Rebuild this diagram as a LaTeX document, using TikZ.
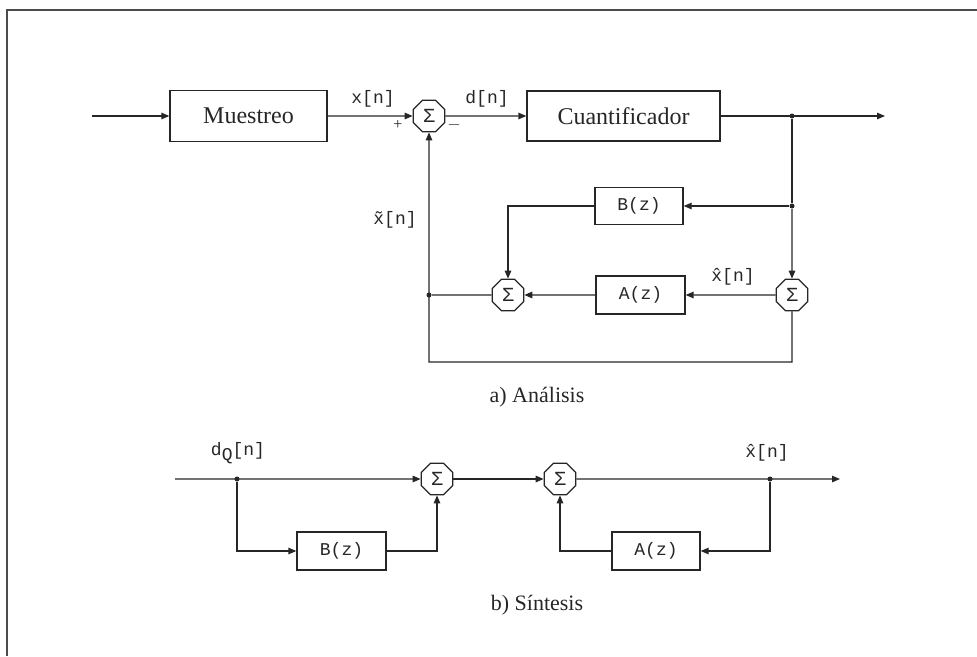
\documentclass[tikz,border=0pt]{standalone}
\usepackage{fontspec}
\setmainfont{Liberation Serif}
\setmonofont{Liberation Mono}
\usetikzlibrary{arrows.meta,shapes.geometric}
\begin{document}
\begin{tikzpicture}[x=1pt,y=-1pt,
  color=black!85,
  line width=1.3pt,
  blk/.style={draw, rectangle, inner sep=0pt, line width=1.3pt},
  sumj/.style={draw, regular polygon, regular polygon sides=8, minimum size=34pt, inner sep=0pt, line width=1.3pt, font=\ttfamily\fontsize{20}{20}\selectfont},
  arr/.style={-{Triangle[length=8pt,width=6.5pt]}},
  dotj/.style={circle, fill, inner sep=0pt, minimum size=5pt},
  lbl/.style={font=\ttfamily\fontsize{18}{18}\selectfont},
  capt/.style={font=\fontsize{22}{22}\selectfont},
  boxtxt/.style={font=\fontsize{24}{24}\selectfont},
  boxmono/.style={font=\ttfamily\fontsize{18}{18}\selectfont}
]
\useasboundingbox (0,0) rectangle (977,656);
% frame
\draw[line width=1.5pt, black!70] (7,656) -- (7,10) -- (977,10);

% ---------- a) Analisis ----------
\coordinate (in1) at (92,116);
\node[blk, boxtxt, minimum width=157pt, minimum height=51pt] (mu) at (248.5,116) {Muestreo};
\node[sumj] (s1) at (429,116) {Σ};
\node[blk, boxtxt, minimum width=193pt, minimum height=50pt] (cu) at (623.5,116) {Cuantificador};
\coordinate (out1) at (885,116);
\node[dotj] (d1) at (792,116) {};
\node[dotj] (d2) at (792,206) {};
\node[blk, boxmono, minimum width=88pt, minimum height=37pt] (bz) at (639,206) {B(z)};
\node[blk, boxmono, minimum width=89pt, minimum height=38pt] (az) at (640.5,295) {A(z)};
\node[sumj] (s2) at (508,295) {Σ};
\node[sumj] (s3) at (792,295) {Σ};
\node[dotj] (d3) at (429,295) {};
\coordinate (lc) at (429,362);

\draw[arr] (in1) -- (mu.west);
\draw[arr] (mu.east) -- (s1.west);
\draw[arr] (s1.east) -- (cu.west);
\draw[arr] (cu.east) -- (out1);
\draw (d1) -- (d2);
\draw[arr] (d2) -- (s3.north);
\draw[arr] (d2) -- (bz.east);
\draw[arr] (bz.west) -| (s2.north);
\draw[arr] (s3.west) -- (az.east);
\draw[arr] (az.west) -- (s2.east);
\draw (s2.west) -- (d3);
\draw[arr] (s3.south) |- (lc) -- (s1.south);

\node[lbl] (lx) at (373,99) {x[n]};
\node[lbl] (ld) at (487,99) {d[n]};
\node[font=\fontsize{16}{16}\selectfont] (lp) at (398,125) {+};
\node[font=\fontsize{16}{16}\selectfont] (lm) at (454,125) {$-$};
\node[lbl] (lxt) at (395,220) {\~{x}[n]};
\node[lbl] (lxh) at (733,277) {\^{x}[n]};
\node[capt] (ca) at (537,397) {a) Análisis};

% ---------- b) Sintesis ----------
\coordinate (in2) at (175,479);
\node[dotj] (d4) at (237,479) {};
\node[sumj] (s4) at (437,479) {Σ};
\node[sumj] (s5) at (560,479) {Σ};
\node[dotj] (d5) at (770,479) {};
\coordinate (out2) at (840,479);
\node[blk, boxmono, minimum width=89pt, minimum height=38pt] (b2) at (341.5,551) {B(z)};
\node[blk, boxmono, minimum width=88pt, minimum height=38pt] (a2) at (656,551) {A(z)};

\draw[arr] (in2) -- (s4.west);
\draw[arr] (d4) |- (b2.west);
\draw[arr] (b2.east) -| (s4.south);
\draw[arr] (s4.east) -- (s5.west);
\draw[arr] (s5.east) -- (out2);
\draw[arr] (d5) |- (a2.east);
\draw[arr] (a2.west) -| (s5.south);

\node[lbl] (ldq) at (238,453) {d\raisebox{-5pt}{Q}[n]};
\node[lbl] (lxh2) at (767,453) {\^{x}[n]};
\node[capt] (cb) at (537,605) {b) Síntesis};
\end{tikzpicture}
\end{document}
